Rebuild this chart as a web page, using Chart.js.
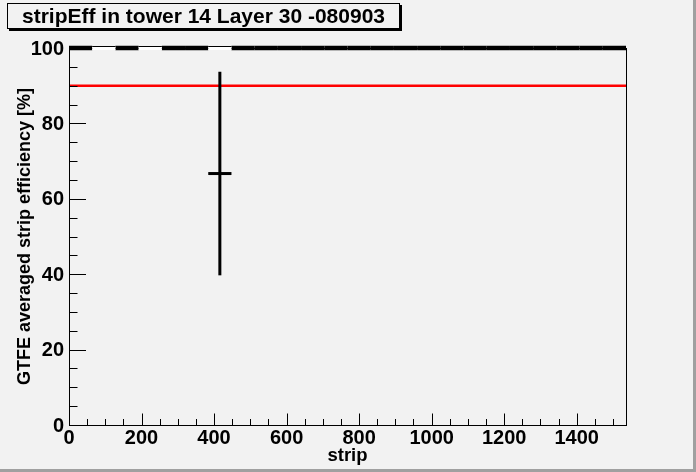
<!DOCTYPE html>
<html><head><meta charset="utf-8">
<script src="https://cdn.jsdelivr.net/npm/chart.js@4.4.0/dist/chart.umd.min.js"></script>
<style>html,body{margin:0;padding:0;background:#f2f2f2;overflow:hidden}canvas{display:block}</style>
</head><body>
<canvas id="c" width="696" height="472"></canvas>
<script>
const chartTitle = "stripEff in tower 14 Layer 30 -080903";
const xTitle = "strip";
const yTitle = "GTFE averaged strip efficiency [%]";
const binCenters = [32,96,160,224,288,352,416,480,544,608,672,736,800,864,928,992,1056,1120,1184,1248,1312,1376,1440,1504];
const efficiency = [100,null,100,null,100,100,66.7,100,100,100,100,100,100,100,100,100,100,100,100,100,100,100,100,100];
const effError   = [0,0,0,0,0,0,27,0,0,0,0,0,0,0,0,0,0,0,0,0,0,0,0,0];
const binHalfWidth = 32;
const threshold = 90;
const xTicks = [0,200,400,600,800,1000,1200,1400];
const xMinorStep = 50;
const yTicks = [0,20,40,60,80,100];
const yMinorStep = 5;
const xRange = [0,1536];
const yRange = [0,100];

const FONT = '"Liberation Sans", Arial, Helvetica, sans-serif';

const rootPlugin = {
  id: 'rootStyle',
  beforeDraw(chart) {
    const ctx = chart.ctx, W = chart.width, H = chart.height;
    ctx.save();
    ctx.fillStyle = '#f2f2f2';
    ctx.fillRect(0, 0, W, H);
    ctx.fillStyle = '#a0a0a0';
    ctx.fillRect(W - 3, 0, 3, H);
    ctx.fillRect(0, H - 3, W, 3);
    ctx.restore();
  },
  afterDatasetsDraw(chart) {
    const ctx = chart.ctx;
    const xs = chart.scales.x, ys = chart.scales.y;
    const a = chart.chartArea;
    ctx.save();
    // frame
    ctx.strokeStyle = '#000';
    ctx.lineWidth = 1;
    ctx.strokeRect(a.left + 0.5, a.top + 0.5, a.right - a.left, a.bottom - a.top);
    // ticks
    const yMaj = 17, yMin = 8.5, xMaj = 11.5, xMin = 6;
    ctx.beginPath();
    for (let v = yRange[0]; v <= yRange[1]; v += yMinorStep) {
      const p = Math.round(ys.getPixelForValue(v)) + 0.5;
      const len = yTicks.includes(v) ? yMaj : yMin;
      ctx.moveTo(a.left, p); ctx.lineTo(a.left + len, p);
    }
    for (let v = xRange[0]; v <= xRange[1]; v += xMinorStep) {
      const p = Math.round(xs.getPixelForValue(v)) + 0.5;
      const len = xTicks.includes(v) ? xMaj : xMin;
      ctx.moveTo(p, a.bottom); ctx.lineTo(p, a.bottom - len);
    }
    ctx.stroke();

    // data: error bars
    ctx.strokeStyle = '#000';
    ctx.lineCap = 'butt';
    for (let i = 0; i < binCenters.length; i++) {
      const v = efficiency[i];
      if (v === null) continue;
      const py = ys.getPixelForValue(v);
      const x0 = xs.getPixelForValue(binCenters[i] - binHalfWidth);
      const x1 = xs.getPixelForValue(binCenters[i] + binHalfWidth);
      const px = xs.getPixelForValue(binCenters[i]);
      ctx.lineWidth = effError[i] === 0 ? 4.5 : 3;
      ctx.beginPath();
      ctx.moveTo(x0, py); ctx.lineTo(x1, py);
      ctx.stroke();
      if (effError[i] > 0) {
        ctx.lineWidth = 3;
        ctx.beginPath();
        ctx.moveTo(px, ys.getPixelForValue(v + effError[i]));
        ctx.lineTo(px, ys.getPixelForValue(v - effError[i]));
        ctx.stroke();
      }
    }
    // non-full bins at top edge
    for (let i = 0; i < binCenters.length; i++) {
      if (efficiency[i] === 100) continue;
      const x0 = xs.getPixelForValue(binCenters[i] - binHalfWidth);
      const x1 = xs.getPixelForValue(binCenters[i] + binHalfWidth);
      const top = ys.getPixelForValue(yRange[1]);
      ctx.fillStyle = '#000';
      ctx.fillRect(x0, top - 2, x1 - x0, 1);
      ctx.fillStyle = '#ffffff';
      ctx.fillRect(x0, top - 1, x1 - x0, 3);
    }

    // tick labels
    ctx.fillStyle = '#000';
    ctx.font = 'bold 20px ' + FONT;
    ctx.textAlign = 'right';
    ctx.textBaseline = 'middle';
    yTicks.forEach(v => {
      ctx.fillText(String(v), a.left - 5, ys.getPixelForValue(v) + 1);
    });
    ctx.textAlign = 'center';
    ctx.textBaseline = 'top';
    xTicks.forEach(v => {
      ctx.fillText(String(v), xs.getPixelForValue(v), a.bottom + 3);
    });
    // axis titles
    ctx.font = 'bold 18.5px ' + FONT;
    ctx.fillText(xTitle, (a.left + a.right) / 2, a.bottom + 22);
    ctx.save();
    ctx.font = 'bold 18px ' + FONT;
    ctx.translate(25, (a.top + a.bottom) / 2);
    ctx.rotate(-Math.PI / 2);
    ctx.textBaseline = 'middle';
    ctx.fillText(yTitle, 0, 0);
    ctx.restore();

    // title box
    ctx.fillStyle = '#000';
    ctx.fillRect(9, 29, 393, 2);
    ctx.fillRect(400, 5, 2, 26);
    ctx.fillStyle = '#f2f2f2';
    ctx.fillRect(7, 3, 393, 26);
    ctx.strokeStyle = '#000';
    ctx.lineWidth = 1;
    ctx.strokeRect(7.5, 3.5, 392, 25);
    ctx.fillStyle = '#000';
    ctx.font = 'bold 21px ' + FONT;
    ctx.textAlign = 'left';
    ctx.textBaseline = 'middle';
    ctx.fillText(chartTitle, 22, 17);
    ctx.restore();
  }
};

new Chart(document.getElementById('c'), {
  type: 'scatter',
  data: {
    datasets: [{
      label: 'efficiency',
      data: binCenters.map((x, i) => ({ x: x, y: efficiency[i] })),
      pointRadius: 0,
      showLine: false
    }, {
      label: 'threshold',
      type: 'line',
      data: [{ x: xRange[0], y: threshold }, { x: xRange[1], y: threshold }],
      borderColor: '#ff0000',
      borderWidth: 2.5,
      pointRadius: 0,
      fill: false
    }]
  },
  options: {
    responsive: false,
    animation: false,
    devicePixelRatio: 1,
    layout: { padding: { left: 69, top: 48, right: 70, bottom: 47 } },
    scales: {
      x: { type: 'linear', min: xRange[0], max: xRange[1], display: false },
      y: { type: 'linear', min: yRange[0], max: yRange[1], display: false }
    },
    plugins: { legend: { display: false }, tooltip: { enabled: false }, title: { display: false } }
  },
  plugins: [rootPlugin]
});
</script>
</body></html>
